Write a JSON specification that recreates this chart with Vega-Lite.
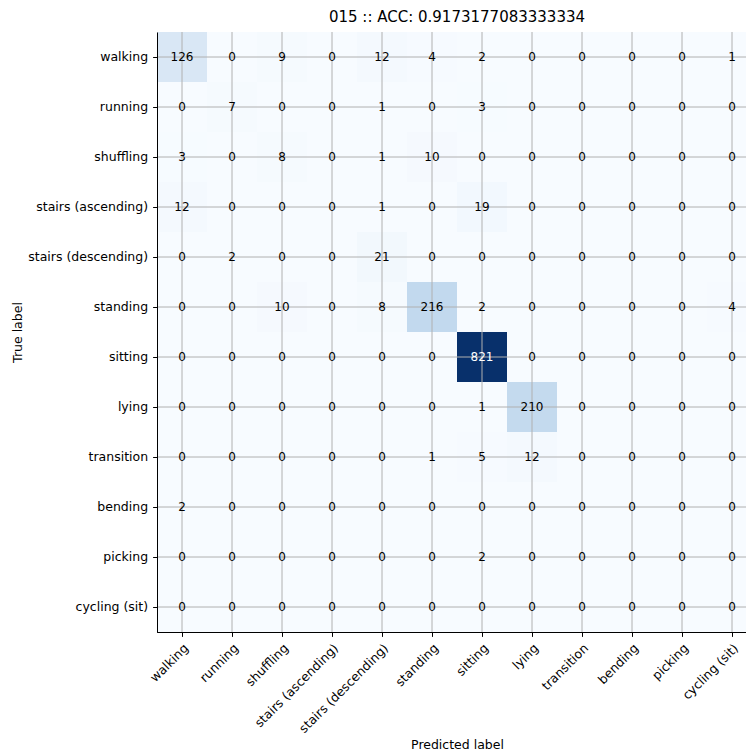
{
  "$schema": "https://vega.github.io/schema/vega-lite/v6.json",
  "autosize": {"type": "none"},
  "padding": {"left": 157, "top": 32, "right": 0, "bottom": 122},
  "width": 600,
  "height": 600,
  "title": {
    "text": "015 :: ACC: 0.9173177083333334",
    "font": "DejaVu Sans",
    "fontSize": 15,
    "fontWeight": "normal",
    "color": "#000000",
    "anchor": "middle",
    "offset": 7
  },
  "config": {
    "view": {"stroke": "#000000", "strokeWidth": 1}
  },
  "resolve": {"axis": {"x": "independent", "y": "independent"}},
  "datasets": {
    "labels": [
      {"label": "walking"}, {"label": "running"}, {"label": "shuffling"},
      {"label": "stairs (ascending)"}, {"label": "stairs (descending)"},
      {"label": "standing"}, {"label": "sitting"}, {"label": "lying"},
      {"label": "transition"}, {"label": "bending"}, {"label": "picking"},
      {"label": "cycling (sit)"}
    ],
    "cells": [
      {"true": "walking", "pred": "walking", "count": 126},
      {"true": "walking", "pred": "running", "count": 0},
      {"true": "walking", "pred": "shuffling", "count": 9},
      {"true": "walking", "pred": "stairs (ascending)", "count": 0},
      {"true": "walking", "pred": "stairs (descending)", "count": 12},
      {"true": "walking", "pred": "standing", "count": 4},
      {"true": "walking", "pred": "sitting", "count": 2},
      {"true": "walking", "pred": "lying", "count": 0},
      {"true": "walking", "pred": "transition", "count": 0},
      {"true": "walking", "pred": "bending", "count": 0},
      {"true": "walking", "pred": "picking", "count": 0},
      {"true": "walking", "pred": "cycling (sit)", "count": 1},

      {"true": "running", "pred": "walking", "count": 0},
      {"true": "running", "pred": "running", "count": 7},
      {"true": "running", "pred": "shuffling", "count": 0},
      {"true": "running", "pred": "stairs (ascending)", "count": 0},
      {"true": "running", "pred": "stairs (descending)", "count": 1},
      {"true": "running", "pred": "standing", "count": 0},
      {"true": "running", "pred": "sitting", "count": 3},
      {"true": "running", "pred": "lying", "count": 0},
      {"true": "running", "pred": "transition", "count": 0},
      {"true": "running", "pred": "bending", "count": 0},
      {"true": "running", "pred": "picking", "count": 0},
      {"true": "running", "pred": "cycling (sit)", "count": 0},

      {"true": "shuffling", "pred": "walking", "count": 3},
      {"true": "shuffling", "pred": "running", "count": 0},
      {"true": "shuffling", "pred": "shuffling", "count": 8},
      {"true": "shuffling", "pred": "stairs (ascending)", "count": 0},
      {"true": "shuffling", "pred": "stairs (descending)", "count": 1},
      {"true": "shuffling", "pred": "standing", "count": 10},
      {"true": "shuffling", "pred": "sitting", "count": 0},
      {"true": "shuffling", "pred": "lying", "count": 0},
      {"true": "shuffling", "pred": "transition", "count": 0},
      {"true": "shuffling", "pred": "bending", "count": 0},
      {"true": "shuffling", "pred": "picking", "count": 0},
      {"true": "shuffling", "pred": "cycling (sit)", "count": 0},

      {"true": "stairs (ascending)", "pred": "walking", "count": 12},
      {"true": "stairs (ascending)", "pred": "running", "count": 0},
      {"true": "stairs (ascending)", "pred": "shuffling", "count": 0},
      {"true": "stairs (ascending)", "pred": "stairs (ascending)", "count": 0},
      {"true": "stairs (ascending)", "pred": "stairs (descending)", "count": 1},
      {"true": "stairs (ascending)", "pred": "standing", "count": 0},
      {"true": "stairs (ascending)", "pred": "sitting", "count": 19},
      {"true": "stairs (ascending)", "pred": "lying", "count": 0},
      {"true": "stairs (ascending)", "pred": "transition", "count": 0},
      {"true": "stairs (ascending)", "pred": "bending", "count": 0},
      {"true": "stairs (ascending)", "pred": "picking", "count": 0},
      {"true": "stairs (ascending)", "pred": "cycling (sit)", "count": 0},

      {"true": "stairs (descending)", "pred": "walking", "count": 0},
      {"true": "stairs (descending)", "pred": "running", "count": 2},
      {"true": "stairs (descending)", "pred": "shuffling", "count": 0},
      {"true": "stairs (descending)", "pred": "stairs (ascending)", "count": 0},
      {"true": "stairs (descending)", "pred": "stairs (descending)", "count": 21},
      {"true": "stairs (descending)", "pred": "standing", "count": 0},
      {"true": "stairs (descending)", "pred": "sitting", "count": 0},
      {"true": "stairs (descending)", "pred": "lying", "count": 0},
      {"true": "stairs (descending)", "pred": "transition", "count": 0},
      {"true": "stairs (descending)", "pred": "bending", "count": 0},
      {"true": "stairs (descending)", "pred": "picking", "count": 0},
      {"true": "stairs (descending)", "pred": "cycling (sit)", "count": 0},

      {"true": "standing", "pred": "walking", "count": 0},
      {"true": "standing", "pred": "running", "count": 0},
      {"true": "standing", "pred": "shuffling", "count": 10},
      {"true": "standing", "pred": "stairs (ascending)", "count": 0},
      {"true": "standing", "pred": "stairs (descending)", "count": 8},
      {"true": "standing", "pred": "standing", "count": 216},
      {"true": "standing", "pred": "sitting", "count": 2},
      {"true": "standing", "pred": "lying", "count": 0},
      {"true": "standing", "pred": "transition", "count": 0},
      {"true": "standing", "pred": "bending", "count": 0},
      {"true": "standing", "pred": "picking", "count": 0},
      {"true": "standing", "pred": "cycling (sit)", "count": 4},

      {"true": "sitting", "pred": "walking", "count": 0},
      {"true": "sitting", "pred": "running", "count": 0},
      {"true": "sitting", "pred": "shuffling", "count": 0},
      {"true": "sitting", "pred": "stairs (ascending)", "count": 0},
      {"true": "sitting", "pred": "stairs (descending)", "count": 0},
      {"true": "sitting", "pred": "standing", "count": 0},
      {"true": "sitting", "pred": "sitting", "count": 821},
      {"true": "sitting", "pred": "lying", "count": 0},
      {"true": "sitting", "pred": "transition", "count": 0},
      {"true": "sitting", "pred": "bending", "count": 0},
      {"true": "sitting", "pred": "picking", "count": 0},
      {"true": "sitting", "pred": "cycling (sit)", "count": 0},

      {"true": "lying", "pred": "walking", "count": 0},
      {"true": "lying", "pred": "running", "count": 0},
      {"true": "lying", "pred": "shuffling", "count": 0},
      {"true": "lying", "pred": "stairs (ascending)", "count": 0},
      {"true": "lying", "pred": "stairs (descending)", "count": 0},
      {"true": "lying", "pred": "standing", "count": 0},
      {"true": "lying", "pred": "sitting", "count": 1},
      {"true": "lying", "pred": "lying", "count": 210},
      {"true": "lying", "pred": "transition", "count": 0},
      {"true": "lying", "pred": "bending", "count": 0},
      {"true": "lying", "pred": "picking", "count": 0},
      {"true": "lying", "pred": "cycling (sit)", "count": 0},

      {"true": "transition", "pred": "walking", "count": 0},
      {"true": "transition", "pred": "running", "count": 0},
      {"true": "transition", "pred": "shuffling", "count": 0},
      {"true": "transition", "pred": "stairs (ascending)", "count": 0},
      {"true": "transition", "pred": "stairs (descending)", "count": 0},
      {"true": "transition", "pred": "standing", "count": 1},
      {"true": "transition", "pred": "sitting", "count": 5},
      {"true": "transition", "pred": "lying", "count": 12},
      {"true": "transition", "pred": "transition", "count": 0},
      {"true": "transition", "pred": "bending", "count": 0},
      {"true": "transition", "pred": "picking", "count": 0},
      {"true": "transition", "pred": "cycling (sit)", "count": 0},

      {"true": "bending", "pred": "walking", "count": 2},
      {"true": "bending", "pred": "running", "count": 0},
      {"true": "bending", "pred": "shuffling", "count": 0},
      {"true": "bending", "pred": "stairs (ascending)", "count": 0},
      {"true": "bending", "pred": "stairs (descending)", "count": 0},
      {"true": "bending", "pred": "standing", "count": 0},
      {"true": "bending", "pred": "sitting", "count": 0},
      {"true": "bending", "pred": "lying", "count": 0},
      {"true": "bending", "pred": "transition", "count": 0},
      {"true": "bending", "pred": "bending", "count": 0},
      {"true": "bending", "pred": "picking", "count": 0},
      {"true": "bending", "pred": "cycling (sit)", "count": 0},

      {"true": "picking", "pred": "walking", "count": 0},
      {"true": "picking", "pred": "running", "count": 0},
      {"true": "picking", "pred": "shuffling", "count": 0},
      {"true": "picking", "pred": "stairs (ascending)", "count": 0},
      {"true": "picking", "pred": "stairs (descending)", "count": 0},
      {"true": "picking", "pred": "standing", "count": 0},
      {"true": "picking", "pred": "sitting", "count": 2},
      {"true": "picking", "pred": "lying", "count": 0},
      {"true": "picking", "pred": "transition", "count": 0},
      {"true": "picking", "pred": "bending", "count": 0},
      {"true": "picking", "pred": "picking", "count": 0},
      {"true": "picking", "pred": "cycling (sit)", "count": 0},

      {"true": "cycling (sit)", "pred": "walking", "count": 0},
      {"true": "cycling (sit)", "pred": "running", "count": 0},
      {"true": "cycling (sit)", "pred": "shuffling", "count": 0},
      {"true": "cycling (sit)", "pred": "stairs (ascending)", "count": 0},
      {"true": "cycling (sit)", "pred": "stairs (descending)", "count": 0},
      {"true": "cycling (sit)", "pred": "standing", "count": 0},
      {"true": "cycling (sit)", "pred": "sitting", "count": 0},
      {"true": "cycling (sit)", "pred": "lying", "count": 0},
      {"true": "cycling (sit)", "pred": "transition", "count": 0},
      {"true": "cycling (sit)", "pred": "bending", "count": 0},
      {"true": "cycling (sit)", "pred": "picking", "count": 0},
      {"true": "cycling (sit)", "pred": "cycling (sit)", "count": 0}
    ]
  },
  "layer": [
    {
      "data": {"name": "cells"},
      "mark": {"type": "rect", "strokeWidth": 0},
      "encoding": {
        "x": {
          "field": "pred",
          "type": "nominal",
          "scale": {
            "domain": ["walking", "running", "shuffling", "stairs (ascending)", "stairs (descending)", "standing", "sitting", "lying", "transition", "bending", "picking", "cycling (sit)"],
            "paddingInner": 0,
            "paddingOuter": 0
          },
          "axis": {
            "title": "Predicted label",
            "labelAngle": -45,
            "labelAlign": "right",
            "labelBaseline": "top",
            "labelFont": "DejaVu Sans",
            "labelFontSize": 12.5,
            "labelColor": "#000000",
            "labelPadding": 5,
            "titleFont": "DejaVu Sans",
            "titleFontSize": 12.5,
            "titleFontWeight": "normal",
            "titleColor": "#000000",
            "titleBaseline": "middle",
            "titleY": 112,
            "tickColor": "#000000",
            "tickSize": 4.4,
            "tickWidth": 1,
            "domainColor": "#000000",
            "domainWidth": 1,
            "grid": false
          }
        },
        "y": {
          "field": "true",
          "type": "nominal",
          "scale": {
            "domain": ["walking", "running", "shuffling", "stairs (ascending)", "stairs (descending)", "standing", "sitting", "lying", "transition", "bending", "picking", "cycling (sit)"],
            "paddingInner": 0,
            "paddingOuter": 0
          },
          "axis": {
            "title": "True label",
            "labelFont": "DejaVu Sans",
            "labelFontSize": 12.5,
            "labelColor": "#000000",
            "labelPadding": 5,
            "titleFont": "DejaVu Sans",
            "titleFontSize": 12.5,
            "titleFontWeight": "normal",
            "titleColor": "#000000",
            "titleBaseline": "middle",
            "titleX": -140,
            "tickColor": "#000000",
            "tickSize": 4.4,
            "tickWidth": 1,
            "domainColor": "#000000",
            "domainWidth": 1,
            "grid": false
          }
        },
        "color": {
          "field": "count",
          "type": "quantitative",
          "legend": null,
          "scale": {
            "type": "linear",
            "domain": [0, 102.625, 205.25, 307.875, 410.5, 513.125, 615.75, 718.375, 821],
            "range": ["#f7fbff", "#deebf7", "#c6dbef", "#9ecae1", "#6baed6", "#4292c6", "#2171b5", "#08519c", "#08306b"]
          }
        }
      }
    },
    {
      "data": {"name": "labels"},
      "mark": {"type": "rule", "color": "#b0b0b0", "strokeWidth": 1},
      "encoding": {
        "x": {
          "field": "label",
          "type": "nominal",
          "axis": {"orient": "top", "labels": false, "ticks": false, "title": null, "domain": true, "domainColor": "#000000", "domainWidth": 1, "grid": false}
        }
      }
    },
    {
      "data": {"name": "labels"},
      "mark": {"type": "rule", "color": "#b0b0b0", "strokeWidth": 1},
      "encoding": {
        "y": {"field": "label", "type": "nominal", "axis": null}
      }
    },
    {
      "data": {"name": "cells"},
      "mark": {"type": "text", "font": "DejaVu Sans", "fontSize": 12, "baseline": "middle", "align": "center"},
      "encoding": {
        "x": {"field": "pred", "type": "nominal", "axis": null},
        "y": {"field": "true", "type": "nominal", "axis": null},
        "text": {"field": "count", "type": "quantitative"},
        "color": {
          "condition": {"test": "datum.count > 410.5", "value": "#ffffff"},
          "value": "#000000"
        }
      }
    }
  ]
}
